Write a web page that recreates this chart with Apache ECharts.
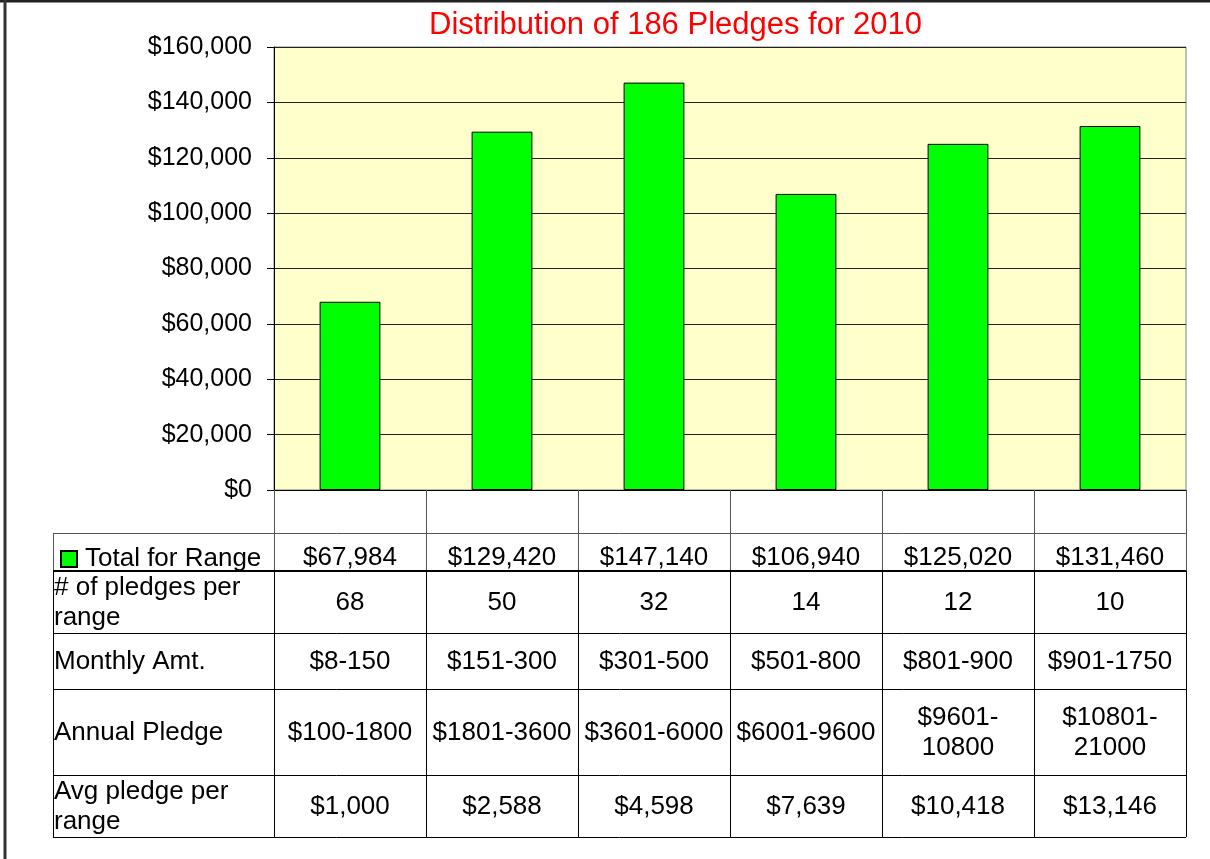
<!DOCTYPE html>
<html>
<head>
<meta charset="utf-8">
<title>Distribution of 186 Pledges for 2010</title>
<script src="https://cdn.jsdelivr.net/npm/echarts@6/dist/echarts.min.js"></script>
<style>
html, body { margin: 0; padding: 0; background: #fff; }
#main { width: 1210px; height: 859px; }
</style>
</head>
<body>
<div id="main"></div>
<script>
var font = '"Liberation Sans", Arial, sans-serif';

// 数据
var ranges = ['$8-150', '$151-300', '$301-500', '$501-800', '$801-900', '$901-1750'];
var totals = [67984, 129420, 147140, 106940, 125020, 131460];
var pledgeCounts = [68, 50, 32, 14, 12, 10];
var annualPledge = ['$100-1800', '$1801-3600', '$3601-6000', '$6001-9600', '$9601-\n10800', '$10801-\n21000'];
var avgPledge = [1000, 2588, 4598, 7639, 10418, 13146];
var rowLabels = ['# of pledges per\nrange', 'Monthly Amt.', 'Annual Pledge', 'Avg pledge per\nrange'];
var seriesName = 'Total for Range';

function money(v) {
    return '$' + String(v).replace(/\B(?=(\d{3})+(?!\d))/g, ',');
}

var chart = echarts.init(document.getElementById('main'));

var option = {
    animation: false,
    backgroundColor: '#fff',
    title: {
        text: 'Distribution of 186 Pledges for 2010',
        left: 429,
        top: 10,
        padding: 0,
        textStyle: { color: '#ff0000', fontSize: 31, fontWeight: 'normal', fontFamily: font }
    },
    legend: {
        data: [seriesName],
        left: 60,
        top: 546,
        padding: 0,
        icon: 'rect',
        itemWidth: 16,
        itemHeight: 16,
        textStyle: { color: '#000', fontSize: 26, fontFamily: font, padding: [0, 0, 0, 3] }
    },
    grid: {
        left: 274,
        top: 47,
        right: 24,
        bottom: 369,
        show: true,
        backgroundColor: '#ffffcc',
        borderColor: '#808080',
        borderWidth: 1
    },
    xAxis: {
        type: 'category',
        data: ranges,
        axisLine: { lineStyle: { color: '#000', width: 1 } },
        axisTick: { show: true, length: 43, lineStyle: { color: '#555' } },
        axisLabel: { show: false },
        splitLine: { show: false }
    },
    yAxis: {
        type: 'value',
        min: 0,
        max: 160000,
        interval: 20000,
        axisLine: { show: true, lineStyle: { color: '#000' } },
        axisTick: { show: true, length: 7, lineStyle: { color: '#000' } },
        axisLabel: {
            color: '#000',
            fontSize: 25,
            fontFamily: font,
            margin: 22,
            formatter: function(v) { return money(v); }
        },
        splitLine: { show: true, lineStyle: { color: '#222', width: 1 } }
    },
    series: [{
        name: seriesName,
        type: 'bar',
        data: totals,
        barWidth: '40%',
        itemStyle: { color: '#00ff00', borderColor: '#000', borderWidth: 1 }
    }]
};
chart.setOption(option);

// 数据表 (按坐标轴位置画)
var zeroY = chart.convertToPixel({ yAxisIndex: 0 }, 0);
var cx = totals.map(function(v, i) { return chart.convertToPixel({ xAxisIndex: 0 }, i); });
var bw = cx[1] - cx[0];
var bounds = [cx[0] - bw / 2];
cx.forEach(function(c) { bounds.push(c + bw / 2); });
var tableLeft = 53;
var tableRight = bounds[bounds.length - 1];
var totalTop = zeroY + 43;
var totalBottom = totalTop + 38;
var rowHeights = [62, 56, 86, 62];
var lowerRows = [pledgeCounts.map(String), ranges, annualPledge, avgPledge.map(money)];

var els = [];
function line(x1, y1, x2, y2, color, w) {
    els.push({ type: 'line', silent: true, z: 10,
        shape: { x1: x1, y1: y1, x2: x2, y2: y2 },
        style: { stroke: color, lineWidth: w || 1 } });
}
function text(t, x, y, align) {
    els.push({ type: 'text', silent: true, z: 11,
        style: { text: t, x: x, y: y, align: align, verticalAlign: 'middle',
            fontSize: 26, fontFamily: font, lineHeight: 30, fill: '#000' } });
}

// 外框
line(0, 1, 1210, 1, '#222', 3);
line(5, 0, 5, 859, '#333', 3);

// Total for Range 行
line(tableLeft, totalTop + 0.5, tableRight, totalTop + 0.5, '#555');
line(tableLeft + 0.5, totalTop, tableLeft + 0.5, totalBottom, '#555');
bounds.forEach(function(b) { line(Math.round(b) + 0.5, totalTop, Math.round(b) + 0.5, totalBottom, '#555'); });
totals.forEach(function(v, i) { text(money(v), cx[i], totalTop + 25, 'center'); });
line(tableLeft, totalBottom, tableRight, totalBottom, '#000', 2);

// 下方各行
var y = totalBottom;
lowerRows.forEach(function(row, r) {
    var h = rowHeights[r];
    text(rowLabels[r], tableLeft + 1, y + h / 2 + 1, 'left');
    row.forEach(function(v, i) { text(v, cx[i], y + h / 2 + 1, 'center'); });
    line(tableLeft + 0.5, y, tableLeft + 0.5, y + h, '#000');
    bounds.forEach(function(b) { line(Math.round(b) + 0.5, y, Math.round(b) + 0.5, y + h, '#000'); });
    y += h;
    line(tableLeft, y + 0.5, tableRight, y + 0.5, '#000');
});

chart.setOption({ graphic: els });
</script>
</body>
</html>
